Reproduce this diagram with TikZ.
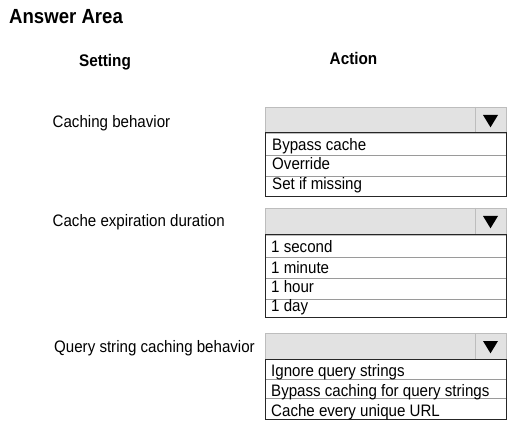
\documentclass[tikz,border=0pt]{standalone}
\usepackage{fontspec}
\usepackage{graphicx}
\setmainfont{Liberation Sans}
\newcommand{\vstr}[1]{\scalebox{1}[1.1]{#1}}
\definecolor{boxgray}{HTML}{E2E2E2}
\definecolor{edgegray}{HTML}{BDBDBD}
\definecolor{rulegray}{HTML}{9A9A9A}
\tikzset{
  lbl/.style={anchor=base west, inner sep=0pt, font=\fontsize{15.1}{17}\selectfont},
  head/.style={anchor=base, inner sep=0pt, font=\fontsize{15.3}{17}\selectfont\bfseries},
  graybox/.style={fill=boxgray, draw=edgegray, line width=0.8pt},
  listbox/.style={draw=black!85, line width=1pt},
  rowline/.style={draw=rulegray, line width=0.6pt},
  tri/.style={fill=black}
}
\begin{document}
\begin{tikzpicture}[x=1pt,y=-1pt]
\useasboundingbox (0,0) rectangle (527,427);
\fill[white] (0,0) rectangle (527,427);
\node[inner sep=0pt, anchor=base west, font=\fontsize{18.6}{20}\selectfont\bfseries] (title) at (9,23.3) {\vstr{Answer Area}};
\node[head] (setting) at (105,66.7) {\vstr{Setting}};
\node[head] (action) at (353.5,65) {\vstr{Action}};

% labels
\node[lbl] (l1) at (52.5,127.3) {\vstr{Caching behavior}};
\node[lbl] (l2) at (52.5,227) {\vstr{Cache expiration duration}};
\node[lbl] (l3) at (54,352.7) {\vstr{Query string caching behavior}};

% dropdown 1
\draw[graybox] (265,107) rectangle (506,133);
\draw[edgegray, line width=0.8pt] (475,107) -- (475,133);
\fill[tri] (483,115) -- (498,115) -- (490.5,127.3) -- cycle;
\draw[rowline] (265,155.5) -- (506,155.5);
\draw[rowline] (265,176) -- (506,176);
\draw[listbox] (265,133) rectangle (506,197);
\node[lbl] (a1) at (272,150.7) {\vstr{Bypass cache}};
\node[lbl] (a2) at (272,169.5) {\vstr{Override}};
\node[lbl] (a3) at (272,190) {\vstr{Set if missing}};

% dropdown 2
\draw[graybox] (265,208) rectangle (506,235);
\draw[edgegray, line width=0.8pt] (475,208) -- (475,235);
\fill[tri] (483,216) -- (498,216) -- (490.5,228.3) -- cycle;
\draw[rowline] (265,257) -- (506,257);
\draw[rowline] (265,278) -- (506,278);
\draw[rowline] (265,299) -- (506,299);
\draw[listbox] (265,235) rectangle (506,318);
\node[lbl] (b1) at (271,253) {\vstr{1 second}};
\node[lbl] (b2) at (271,273.3) {\vstr{1 minute}};
\node[lbl] (b3) at (271,292.7) {\vstr{1 hour}};
\node[lbl] (b4) at (271,311.7) {\vstr{1 day}};

% dropdown 3
\draw[graybox] (265,333) rectangle (506,359);
\draw[edgegray, line width=0.8pt] (475,333) -- (475,359);
\fill[tri] (483,341) -- (498,341) -- (490.5,353.3) -- cycle;
\draw[rowline] (265,379) -- (506,379);
\draw[rowline] (265,398.5) -- (506,398.5);
\draw[listbox] (265,359) rectangle (506,419);
\node[lbl] (c1) at (271,376.5) {\vstr{Ignore query strings}};
\node[lbl] (c2) at (271,396.5) {\vstr{Bypass caching for query strings}};
\node[lbl] (c3) at (271,416) {\vstr{Cache every unique URL}};
\end{tikzpicture}
\end{document}
